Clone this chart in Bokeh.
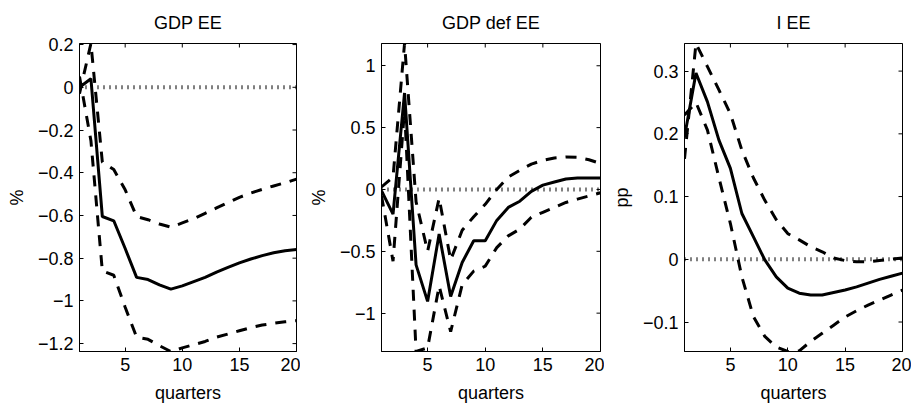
import math
from bokeh.plotting import figure
from bokeh.layouts import row
from bokeh.models import Range1d, LinearAxis, FixedTicker, Span
from bokeh.embed import file_html
from bokeh.resources import INLINE

quarters = list(range(1, 21))

# GDP EE (%)
gdp_mid = [0.0, 0.04, -0.605, -0.625, -0.755, -0.89, -0.90, -0.925, -0.945, -0.93,
           -0.91, -0.89, -0.865, -0.843, -0.822, -0.804, -0.788, -0.775, -0.765, -0.76]
gdp_up = [-0.03, 0.205, -0.35, -0.385, -0.48, -0.605, -0.62, -0.64, -0.655, -0.635,
          -0.615, -0.59, -0.565, -0.54, -0.515, -0.495, -0.478, -0.462, -0.447, -0.43]
gdp_lo = [0.05, -0.25, -0.86, -0.88, -1.03, -1.17, -1.18, -1.21, -1.237, -1.22,
          -1.205, -1.19, -1.17, -1.155, -1.14, -1.125, -1.113, -1.105, -1.098, -1.093]

# GDP def EE (%)
def_mid = [-0.01, -0.2, 0.78, -0.61, -0.905, -0.36, -0.865, -0.59, -0.415, -0.415,
           -0.25, -0.145, -0.095, -0.015, 0.035, 0.06, 0.085, 0.092, 0.092, 0.092]
def_up = [0.02, 0.1, 1.18, -0.1, -0.5, -0.07, -0.57, -0.33, -0.22, -0.12,
          0.0, 0.1, 0.155, 0.205, 0.235, 0.255, 0.263, 0.26, 0.24, 0.21]
def_lo = [-0.05, -0.58, 0.65, -1.31, -1.28, -0.78, -1.15, -0.77, -0.66, -0.62,
          -0.47, -0.375, -0.32, -0.225, -0.185, -0.145, -0.105, -0.078, -0.052, -0.027]

# I EE (pp)
i_mid = [0.195, 0.297, 0.251, 0.19, 0.145, 0.073, 0.036, -0.001, -0.028, -0.046,
         -0.054, -0.057, -0.057, -0.053, -0.049, -0.044, -0.038, -0.032, -0.027, -0.022]
i_up = [0.16, 0.344, 0.307, 0.27, 0.232, 0.174, 0.13, 0.094, 0.063, 0.041,
        0.031, 0.02, 0.012, 0.002, -0.002, -0.004, -0.004, -0.002, 0.0, 0.002]
i_lo = [0.23, 0.25, 0.206, 0.13, 0.057, -0.028, -0.091, -0.123, -0.14, -0.147,
        -0.146, -0.131, -0.118, -0.105, -0.092, -0.082, -0.073, -0.065, -0.057, -0.049]

x_ticks = [5, 10, 15, 20]
gdp_yticks = [-1.2, -1.0, -0.8, -0.6, -0.4, -0.2, 0.0, 0.2]
gdp_ylabels = ["\u22121.2", "\u22121", "\u22120.8", "\u22120.6", "\u22120.4", "\u22120.2", "0", "0.2"]
def_yticks = [-1.0, -0.5, 0.0, 0.5, 1.0]
def_ylabels = ["\u22121", "\u22120.5", "0", "0.5", "1"]
i_yticks = [-0.1, 0.0, 0.1, 0.2, 0.3]
i_ylabels = ["\u22120.1", "0", "0.1", "0.2", "0.3"]

FONT = "Liberation Sans"
FS = "18px"


def style_axis(ax):
    ax.major_tick_in = 4
    ax.major_tick_out = 0
    ax.minor_tick_in = 0
    ax.minor_tick_out = 0
    ax.axis_line_color = "black"
    ax.major_tick_line_color = "black"
    ax.major_label_text_font = FONT
    ax.major_label_text_font_size = FS
    ax.major_label_text_color = "black"
    ax.axis_label_text_font = FONT
    ax.axis_label_text_font_size = FS
    ax.axis_label_text_font_style = "normal"
    ax.axis_label_text_color = "black"


def panel(title, ylabel, mid, up, lo, yticks, ylabels, width, left, right):
    ymin = min(mid + up + lo)
    ymax = max(mid + up + lo)
    p = figure(width=width, height=407, output_backend="svg", toolbar_location=None,
               x_range=Range1d(quarters[0], quarters[-1]), y_range=Range1d(ymin, ymax),
               min_border_left=left, min_border_right=right,
               min_border_top=43, min_border_bottom=56,
               x_axis_location=None, y_axis_location=None)
    p.xgrid.visible = False
    p.ygrid.visible = False
    p.outline_line_color = "black"
    p.outline_line_alpha = 1
    p.outline_line_width = 1
    p.background_fill_color = "white"
    p.border_fill_color = "white"

    # title drawn as the label of an empty axis above the frame
    top = LinearAxis(ticker=FixedTicker(ticks=[]))
    style_axis(top)
    top.axis_line_color = None
    top.major_tick_line_color = None
    top.major_tick_in = 0
    top.major_tick_out = 0
    top.major_label_standoff = 0
    top.axis_label = title
    top.axis_label_standoff = 11
    p.add_layout(top, "above")

    xax = LinearAxis(ticker=FixedTicker(ticks=x_ticks),
                     major_label_overrides={t: str(t) for t in x_ticks})
    style_axis(xax)
    xax.axis_label = "quarters"
    xax.major_label_standoff = 6
    xax.axis_label_standoff = 9
    p.add_layout(xax, "below")

    yax = LinearAxis(ticker=FixedTicker(ticks=yticks),
                     major_label_overrides={t: s for t, s in zip(yticks, ylabels)})
    style_axis(yax)
    yax.axis_label = ylabel
    yax.major_label_standoff = 6
    yax.axis_label_standoff = 8
    p.add_layout(yax, "left")

    # inward ticks on the top and right edges of the box (clipped to the frame)
    p.scatter(x_ticks, [ymax] * len(x_ticks), marker="dash", angle=math.pi / 2,
              size=8, line_color="black", line_width=1)
    p.scatter([quarters[-1]] * len(yticks), yticks, marker="dash",
              size=8, line_color="black", line_width=1)

    p.add_layout(Span(location=0, dimension="width", line_color="black",
                      line_width=4, line_dash="1 5"))
    p.line(quarters, up, line_color="black", line_width=3, line_dash="11 9")
    p.line(quarters, lo, line_color="black", line_width=3, line_dash="11 9")
    p.line(quarters, mid, line_color="black", line_width=3)
    return p


p1 = panel("GDP EE", "%", gdp_mid, gdp_up, gdp_lo, gdp_yticks, gdp_ylabels, 300, 79, 4)
p2 = panel("GDP def EE", "%", def_mid, def_up, def_lo, def_yticks, def_ylabels, 304, 81, 4)
p3 = panel("I EE", "pp", i_mid, i_up, i_lo, i_yticks, i_ylabels, 307, 80, 9)

layout = row(p1, p2, p3)
open("out.html", "w").write(file_html(layout, INLINE))
